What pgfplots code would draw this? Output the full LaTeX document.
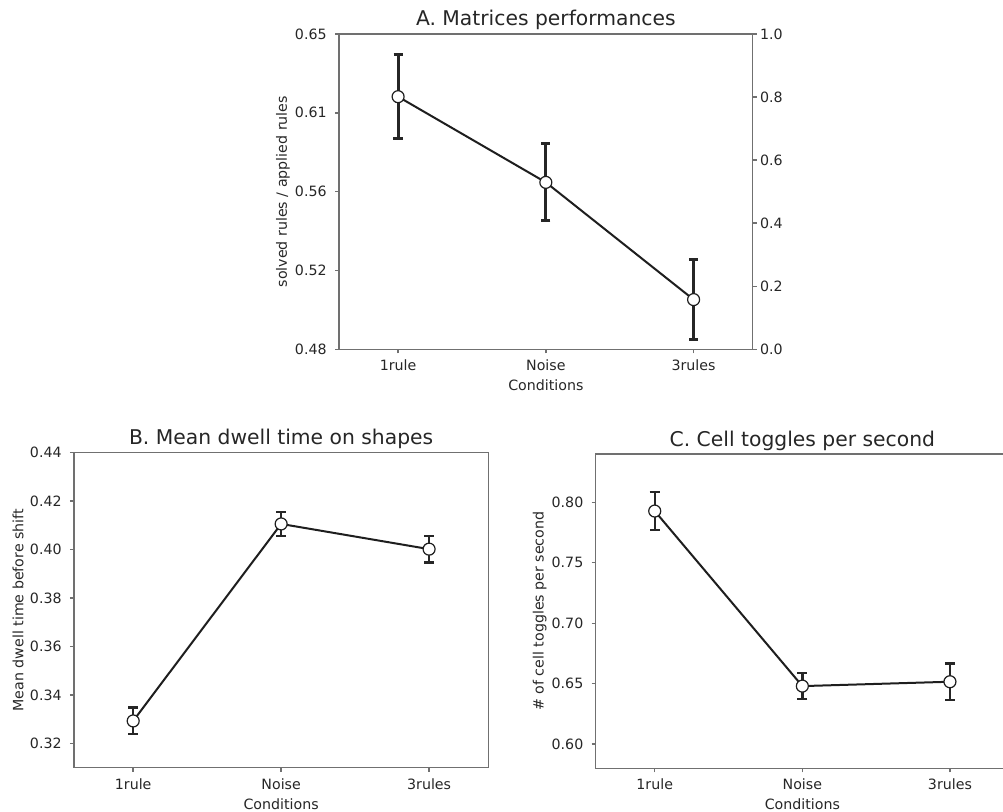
\documentclass[border=0pt]{standalone}
\usepackage{fontspec}
\setmainfont{DejaVu Sans}
\usepackage{pgfplots}
\pgfplotsset{compat=1.18}
\definecolor{spine}{HTML}{707070}
\definecolor{txt}{HTML}{262626}
\definecolor{ln}{HTML}{1E1E1E}
\pgfplotsset{
  panel/.style={
    scale only axis,
    anchor=south west,
    xmin=-0.4, xmax=2.4,
    xtick={0,1,2}, xticklabels={1rule,Noise,3rules},
    axis line style={spine, line width=0.7pt},
    tick style={spine, line width=0.7pt},
    major tick length=2pt,
    tick align=outside,
    tick pos=left,
    font=\fontsize{7.1}{8.5}\selectfont,
    /pgf/number format/assume math mode=true,
    ticklabel style={text=txt, font=\fontsize{7.1}{8.5}\selectfont},
    yticklabel style={anchor=east, inner sep=0pt, xshift=-4pt},
    xticklabel style={anchor=base, inner sep=0pt, yshift=-8.85pt},
    xlabel={Conditions},
    xlabel style={at={(rel axis cs:0.5,0)}, anchor=base, inner sep=0pt, yshift=-20.7pt, text=txt},
    ylabel style={at={([xshift=-28pt]rel axis cs:0,0.5)}, anchor=center, inner sep=0pt, text=txt},
    title style={at={(rel axis cs:0.5,1)}, anchor=base, inner sep=0pt, yshift=-2pt, text=txt, font=\fontsize{10.15}{12}\selectfont},
  },
  ebars/.style 2 args={draw=none, mark=none, forget plot,
    error bars/.cd, y dir=both, y explicit,
    error bar style={line width=#1, color=txt},
    error mark options={rotate=90, line width=#1, mark size=#2, color=txt}},
  mainline/.style={ln, line width=1pt, mark=*, mark size=3pt,
    mark options={fill=white, draw=ln, line width=0.6pt}},
}
\begin{document}
\begin{tikzpicture}
\path[use as bounding box] (0,0) rectangle (501.5pt,-406pt);
% Panel A
\begin{axis}[panel, at={(169.5pt,-174.65pt)}, width=206.85pt, height=157.65pt,
  ymin=0.48, ymax=0.65,
  ytick={0.48,0.5225,0.565,0.6075,0.65},
  yticklabels={0.48,0.52,0.56,0.61,0.65},
  ylabel={solved rules / applied rules},
  title={A. Matrices performances}]
\addplot[ebars={1.5pt}{2.3pt}] coordinates {(0,0.6162) +- (0,0.0228) (1,0.5700) +- (0,0.0207) (2,0.5068) +- (0,0.0216)};
\addplot[mainline] coordinates {(0,0.6162) (1,0.5700) (2,0.5068)};
\end{axis}
\begin{axis}[panel, at={(169.5pt,-174.65pt)}, width=206.85pt, height=157.65pt,
  axis x line=none, axis y line*=right, tick pos=right,
  xlabel={}, ymin=0, ymax=1,
  ytick={0,0.2,0.4,0.6,0.8,1.0},
  yticklabels={0.0,0.2,0.4,0.6,0.8,1.0},
  yticklabel style={anchor=west, inner sep=0pt, xshift=5.5pt}]
\addplot[draw=none] coordinates {(0,0) (2,1)};
\end{axis}
% Panel B
\begin{axis}[panel, at={(37pt,-383.85pt)}, width=207.15pt, height=157.5pt,
  ymin=0.31, ymax=0.44,
  ytick={0.32,0.34,0.36,0.38,0.40,0.42,0.44},
  yticklabel={\pgfmathprintnumber[fixed,precision=2,zerofill]{\tick}},
  ylabel={Mean dwell time before shift},
  title={B. Mean dwell time on shapes}]
\addplot[ebars={1.2pt}{2.4pt}] coordinates {(0,0.3293) +- (0,0.0055) (1,0.4106) +- (0,0.0049) (2,0.4002) +- (0,0.0055)};
\addplot[mainline] coordinates {(0,0.3293) (1,0.4106) (2,0.4002)};
\end{axis}
% Panel C
\begin{axis}[panel, at={(297.85pt,-384.15pt)}, width=206.65pt, height=157.15pt,
  ymin=0.58, ymax=0.84,
  ytick={0.60,0.65,0.70,0.75,0.80},
  yticklabel={\pgfmathprintnumber[fixed,precision=2,zerofill]{\tick}},
  ylabel={\# of cell toggles per second},
  title={C. Cell toggles per second}]
\addplot[ebars={1.2pt}{2.5pt}] coordinates {(0,0.7928) +- (0,0.0159) (1,0.6480) +- (0,0.0109) (2,0.6516) +- (0,0.0152)};
\addplot[mainline] coordinates {(0,0.7928) (1,0.6480) (2,0.6516)};
\end{axis}
\end{tikzpicture}
\end{document}
